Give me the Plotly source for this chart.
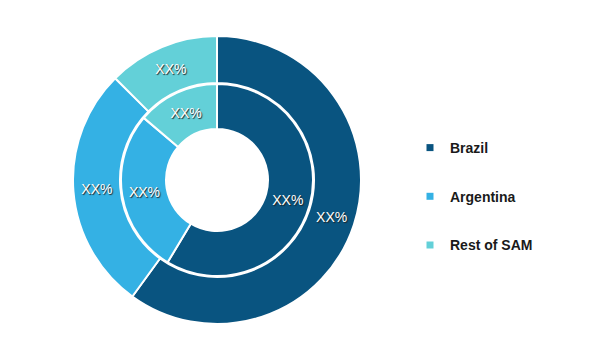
import plotly.graph_objects as go

categories = ["Brazil", "Argentina", "Rest of SAM"]
outer_values = [60.0, 27.5, 12.5]
inner_values = [58.6, 27.6, 13.8]
slice_labels = ["XX%", "XX%", "XX%"]
colors = ["#095480", "#34B1E4", "#63D0D8"]

W, H = 600, 359
cx, cy = 209, 172
R_out, R_in = 144, 96

def dom(r):
    return dict(x=[(cx - r) / W, (cx + r) / W],
                y=[(H - cy - r) / H, (H - cy + r) / H])

txtfont = dict(family="Liberation Sans, Arial", size=14, color="#ffffff",
               shadow="1px 1px 1px #222")

fig = go.Figure()
fig.add_trace(go.Pie(
    labels=categories, values=outer_values, text=slice_labels,
    textinfo="text", textposition="inside", insidetextorientation="horizontal",
    hole=97 / 144, sort=False, direction="clockwise", rotation=0,
    marker=dict(colors=colors, line=dict(color="#ffffff", width=2)),
    textfont=txtfont, domain=dom(R_out), showlegend=False, hoverinfo="label+value",
))
fig.add_trace(go.Pie(
    labels=categories, values=inner_values, text=slice_labels,
    textinfo="text", textposition="inside", insidetextorientation="horizontal",
    hole=51 / 96, sort=False, direction="clockwise", rotation=0,
    marker=dict(colors=colors, line=dict(color="#ffffff", width=2)),
    textfont=txtfont, domain=dom(R_in), showlegend=False, hoverinfo="label+value",
))

for name, c in zip(categories, colors):
    fig.add_trace(go.Scatter(
        x=[None], y=[None], mode="markers", name=name, legendgroup=name,
        marker=dict(symbol="square", size=7, color=c),
    ))

fig.update_layout(
    width=W, height=H,
    margin=dict(l=0, r=0, t=0, b=0),
    paper_bgcolor="#ffffff", plot_bgcolor="#ffffff",
    xaxis=dict(visible=False), yaxis=dict(visible=False),
    legend=dict(x=0.67, y=0.6546, xanchor="left", yanchor="top",
                tracegroupgap=27.5, itemwidth=30,
                font=dict(family="Liberation Sans Narrow, Arial Narrow, Liberation Sans", size=14,
                          color="#1a1a1a", weight="bold")),
)
fig.write_html("out.html")
